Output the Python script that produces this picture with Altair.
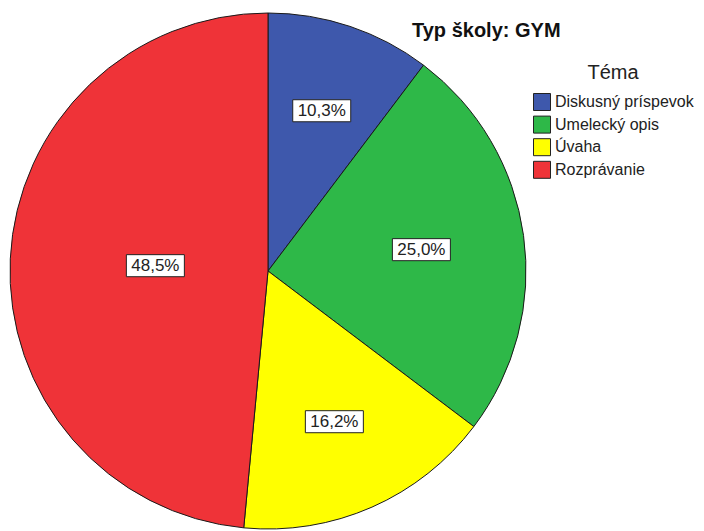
import altair as alt
import pandas as pd

categories = ["Diskusný príspevok", "Umelecký opis", "Úvaha", "Rozprávanie"]
percent = [10.3, 25.0, 16.2, 48.5]
labels = ["10,3%", "25,0%", "16,2%", "48,5%"]
colors = ["#3e58ac", "#2eb848", "#ffff00", "#ef3338"]

df = pd.DataFrame({"tema": categories, "pct": percent, "label": labels,
                   "order": list(range(len(categories)))})

W, H = 688, 523
CX, CY = 260, 263
R = 258
FONT = "Arial, Liberation Sans, sans-serif"

base = alt.Chart(df)

color = alt.Color(
    "tema:N",
    scale=alt.Scale(domain=categories, range=colors),
    legend=alt.Legend(
        title="Téma", orient="none", legendX=525, legendY=55,
        symbolType="square", symbolSize=289, symbolStrokeColor="#222",
        symbolStrokeWidth=1, symbolOpacity=1,
        labelFont=FONT, labelFontSize=16, labelColor="#222", labelOffset=4,
        labelLimit=200,
        titleFont=FONT, titleFontSize=20, titleFontWeight="normal", titleColor="#222",
        titleAnchor="middle", titleAlign="center", titlePadding=10, rowPadding=0.6,
        padding=0,
    ),
)

pie = base.mark_arc(outerRadius=R, stroke="#1a1a1a", strokeWidth=1).encode(
    theta=alt.Theta("pct:Q", stack=True),
    color=color,
    order=alt.Order("order:Q"),
    x=alt.value(CX),
    y=alt.value(CY),
)

lab = base.transform_joinaggregate(total="sum(pct)").transform_window(
    cum="sum(pct)", sort=[alt.SortField("order")], frame=[None, 0]
).transform_calculate(
    a="2*PI*datum.pct/datum.total"
).transform_calculate(
    mid="2*PI*(datum.cum - datum.pct/2)/datum.total"
).transform_calculate(
    r=f"2*{R}*sin(datum.a/2)/(1.5*datum.a)"
).transform_calculate(
    lx="datum.r*sin(datum.mid)",
    ly="datum.r*cos(datum.mid)",
)

xs = alt.X("lx:Q", scale=alt.Scale(domain=[-CX, W - CX], nice=False, zero=False), axis=None)
ys = alt.Y("ly:Q", scale=alt.Scale(domain=[CY - H, CY], nice=False, zero=False), axis=None)

box = lab.mark_point(
    shape="M-1,-0.38L1,-0.38L1,0.38L-1,0.38Z", size=3364, filled=True,
    fill="white", stroke="#222", strokeWidth=1, opacity=1,
).encode(x=xs, y=ys)

txt = lab.mark_text(font=FONT, fontSize=17, color="#222", baseline="middle").encode(
    x=xs, y=ys, text="label:N"
)

chart = alt.layer(pie, box, txt).properties(
    width=W, height=H,
    autosize=alt.AutoSizeParams(type="none"),
    padding=0,
    title=alt.TitleParams(
        "Typ školy: GYM", anchor="start", font=FONT, fontSize=20, fontWeight="bold",
        color="#111", dx=404, dy=49, offset=0, baseline="alphabetic",
    ),
).configure_view(stroke=None)

chart.save("out.html", embed_options={"renderer": "svg", "actions": False})
